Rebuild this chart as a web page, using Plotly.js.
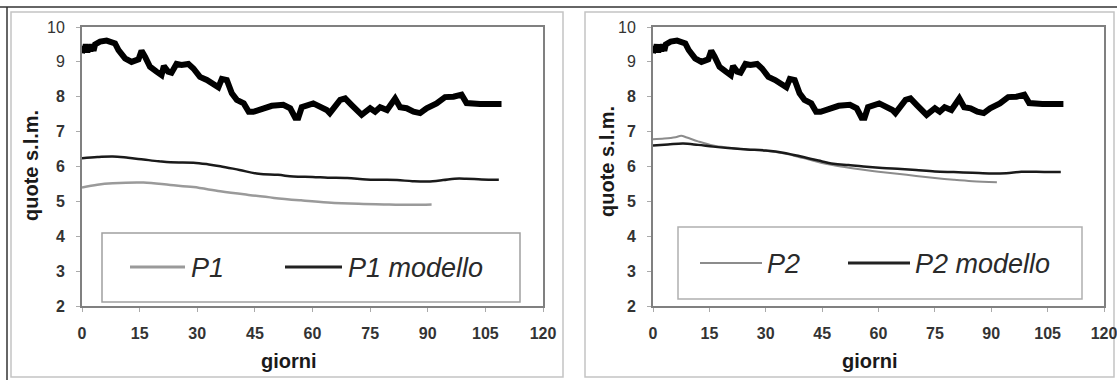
<!DOCTYPE html>
<html>
<head>
<meta charset="utf-8">
<script src="https://cdn.plot.ly/plotly-3.0.1.min.js"></script>
<style>
  html, body { margin: 0; padding: 0; background: #ffffff; }
  #chart { width: 1117px; height: 380px; }
</style>
</head>
<body>
<div id="chart"></div>
<script>
// ---------------- DATA ----------------
// shared upper (thick) series, days and levels (m s.l.m.)
const topDays = [0, 0.3, 0.6, 1, 1.4, 1.8, 2.2, 2.6, 3, 3.4, 4.7, 6.4, 8.6, 9.5, 11.2, 12.9, 14.7, 15.5, 16.4, 17.7, 19.4, 20.7, 21.3, 22.4, 23.3, 24.6, 25.9, 27.7, 29, 30.7, 32.5, 34.2, 35.5, 36.4, 37.7, 39, 40.3, 42.1, 43.4, 44.6, 47.2, 49.4, 52.4, 54.2, 55.5, 56.3, 57.2, 60.2, 63.7, 64.5, 67.2, 68.5, 70.2, 72.8, 75, 76.3, 77.6, 79.4, 81.5, 82.8, 84.5, 86.3, 88, 89.7, 92.3, 94.5, 96.7, 98.8, 100.1, 103.6, 109.2];
const topLevel = [9.25, 9.45, 9.28, 9.5, 9.27, 9.48, 9.3, 9.5, 9.32, 9.5, 9.58, 9.61, 9.53, 9.34, 9.10, 9.0, 9.07, 9.32, 9.15, 8.86, 8.72, 8.62, 8.88, 8.72, 8.69, 8.94, 8.91, 8.94, 8.81, 8.57, 8.48, 8.38, 8.27, 8.51, 8.48, 8.1, 7.91, 7.81, 7.57, 7.57, 7.67, 7.74, 7.77, 7.67, 7.40, 7.40, 7.70, 7.81, 7.62, 7.53, 7.91, 7.95, 7.76, 7.48, 7.67, 7.57, 7.70, 7.62, 7.95, 7.70, 7.67, 7.57, 7.53, 7.67, 7.81, 7.99, 8.0, 8.06, 7.82, 7.79, 7.79];

// P1 observed and model
const p1Days = [0, 4, 8, 16, 23, 29, 36, 43, 50, 57, 64, 72, 80, 86, 91];
const p1Level = [5.40, 5.48, 5.52, 5.54, 5.47, 5.41, 5.29, 5.19, 5.10, 5.03, 4.97, 4.93, 4.91, 4.90, 4.91];
const p1mDays = [0, 4, 8, 12, 16, 20, 23, 29, 33, 36, 41, 46, 51, 55, 60, 64, 69, 74, 78, 82, 86, 90, 94, 97, 100, 104, 108.5];
const p1mLevel = [6.24, 6.27, 6.29, 6.25, 6.20, 6.15, 6.12, 6.11, 6.06, 6.01, 5.90, 5.79, 5.76, 5.71, 5.70, 5.68, 5.67, 5.63, 5.62, 5.61, 5.58, 5.57, 5.61, 5.65, 5.65, 5.63, 5.62];

// P2 observed and model
const p2Days = [0, 3, 6, 7.5, 9, 12, 16, 20, 25, 30, 35, 40, 45, 50, 55, 60, 65, 70, 75, 80, 85, 91.5];
const p2Level = [6.78, 6.80, 6.84, 6.88, 6.83, 6.72, 6.60, 6.54, 6.49, 6.45, 6.37, 6.24, 6.10, 6.00, 5.92, 5.85, 5.79, 5.73, 5.67, 5.62, 5.58, 5.55];
const p2mDays = [0, 4, 8, 12, 16, 20, 25, 30, 35, 40, 44, 48, 52, 56, 61, 66, 70, 75, 80, 85, 90, 94, 98, 102, 106, 108.5];
const p2mLevel = [6.60, 6.63, 6.66, 6.62, 6.57, 6.53, 6.49, 6.46, 6.39, 6.27, 6.17, 6.08, 6.04, 6.00, 5.96, 5.93, 5.90, 5.86, 5.84, 5.82, 5.80, 5.81, 5.85, 5.85, 5.84, 5.84];

const xTicks = [0, 15, 30, 45, 60, 75, 90, 105, 120];
const yTicks = [2, 3, 4, 5, 6, 7, 8, 9, 10];
const seriesNames = ["P1", "P1 modello", "P2", "P2 modello"];
const xTitle = "giorni";
const yTitle = "quote s.l.m.";

// ---------------- LAYOUT HELPERS ----------------
const W = 1117, H = 380;
const px = v => v / W;
const py = v => 1 - v / H;
const FONT = "Liberation Sans, Arial, sans-serif";

// the upper part of the scanned figure is sharp, the lower part is blurred (looks bold)
const xTickText = xTicks.map(v => '<b>' + v + '</b>');
const yTickText = yTicks.map(v => v >= 9 ? String(v) : '<b>' + v + '</b>');

const traces = [
  {x: topDays, y: topLevel, xaxis: 'x', yaxis: 'y', mode: 'lines', showlegend: false,
   line: {color: '#000000', width: 6}},
  {x: p1mDays, y: p1mLevel, xaxis: 'x', yaxis: 'y', mode: 'lines', name: seriesNames[1], showlegend: false,
   line: {color: '#1a1a1a', width: 2.5, shape: 'spline'}},
  {x: p1Days, y: p1Level, xaxis: 'x', yaxis: 'y', mode: 'lines', name: seriesNames[0], showlegend: false,
   line: {color: '#9a9a9a', width: 2.5, shape: 'spline'}},
  {x: topDays, y: topLevel, xaxis: 'x2', yaxis: 'y2', mode: 'lines', showlegend: false,
   line: {color: '#000000', width: 6}},
  {x: p2Days, y: p2Level, xaxis: 'x2', yaxis: 'y2', mode: 'lines', name: seriesNames[2], showlegend: false,
   line: {color: '#8c8c8c', width: 2, shape: 'spline'}},
  {x: p2mDays, y: p2mLevel, xaxis: 'x2', yaxis: 'y2', mode: 'lines', name: seriesNames[3], showlegend: false,
   line: {color: '#1a1a1a', width: 2.5, shape: 'spline'}}
];

function xAxis(domain, anchor) {
  return {
    domain: domain, anchor: anchor, range: [0, 120], tickvals: xTicks, ticktext: xTickText,
    showline: true, linecolor: '#808080', linewidth: 2, mirror: true,
    ticks: 'outside', ticklen: 4, tickcolor: '#aaaaaa', tickwidth: 1,
    tickfont: {family: FONT, size: 16, color: '#333333'}, ticklabelstandoff: 8,
    ticklabeloverflow: 'allow',
    showgrid: false, zeroline: false, fixedrange: true
  };
}
function yAxis(domain, anchor) {
  return {
    domain: domain, anchor: anchor, range: [2, 10], tickvals: yTicks, ticktext: yTickText,
    showline: true, linecolor: '#808080', linewidth: 2, mirror: true,
    ticks: 'outside', ticklen: 4, tickcolor: '#aaaaaa', tickwidth: 1,
    tickfont: {family: FONT, size: 16, color: '#333333'}, ticklabelstandoff: 8,
    ticklabeloverflow: 'allow',
    showgrid: false, zeroline: false, fixedrange: true
  };
}

const yDom = [py(306), py(27)];

const shapes = [
  // outer frame lines
  {type: 'line', xref: 'paper', yref: 'paper', x0: 0, x1: 1, y0: py(7), y1: py(7), line: {color: '#333333', width: 1.5}},
  {type: 'line', xref: 'paper', yref: 'paper', x0: px(7), x1: px(7), y0: py(7), y1: 0, line: {color: '#333333', width: 1.5}},
  {type: 'rect', xref: 'paper', yref: 'paper', x0: px(11), x1: px(563), y0: py(377), y1: py(12), line: {color: '#c4c4c4', width: 1.5}, layer: 'below'},
  {type: 'rect', xref: 'paper', yref: 'paper', x0: px(585), x1: px(1114), y0: py(377), y1: py(12), line: {color: '#c4c4c4', width: 1.5}, layer: 'below'},
  // legend boxes
  {type: 'rect', xref: 'paper', yref: 'paper', x0: px(102), x1: px(520), y0: py(302), y1: py(233), line: {color: '#a0a0a0', width: 1.5}, fillcolor: '#ffffff'},
  {type: 'rect', xref: 'paper', yref: 'paper', x0: px(678), x1: px(1082), y0: py(299), y1: py(227), line: {color: '#b0b0b0', width: 1.5}, fillcolor: '#ffffff'},
  // legend samples
  {type: 'line', xref: 'paper', yref: 'paper', x0: px(130), x1: px(185), y0: py(267), y1: py(267), line: {color: '#9a9a9a', width: 3}},
  {type: 'line', xref: 'paper', yref: 'paper', x0: px(285), x1: px(342), y0: py(267), y1: py(267), line: {color: '#222222', width: 3}},
  {type: 'line', xref: 'paper', yref: 'paper', x0: px(700), x1: px(762), y0: py(263), y1: py(263), line: {color: '#8c8c8c', width: 2}},
  {type: 'line', xref: 'paper', yref: 'paper', x0: px(848), x1: px(910), y0: py(263), y1: py(263), line: {color: '#222222', width: 3}}
];

const legFont = {family: FONT, size: 27, color: '#2a2a2a', style: 'italic'};
const titleFont = {family: FONT, size: 20, color: '#1a1a1a', weight: 'bold'};
const annotations = [
  {xref: 'paper', yref: 'paper', x: px(189), y: py(268), xanchor: 'left', yanchor: 'middle', text: seriesNames[0], showarrow: false, font: legFont},
  {xref: 'paper', yref: 'paper', x: px(346), y: py(268), xanchor: 'left', yanchor: 'middle', text: seriesNames[1], showarrow: false, font: legFont},
  {xref: 'paper', yref: 'paper', x: px(765), y: py(264), xanchor: 'left', yanchor: 'middle', text: seriesNames[2], showarrow: false, font: legFont},
  {xref: 'paper', yref: 'paper', x: px(913), y: py(264), xanchor: 'left', yanchor: 'middle', text: seriesNames[3], showarrow: false, font: legFont},
  {xref: 'paper', yref: 'paper', x: px(289), y: py(361), xanchor: 'center', yanchor: 'middle', text: xTitle, showarrow: false, font: titleFont},
  {xref: 'paper', yref: 'paper', x: px(870), y: py(361), xanchor: 'center', yanchor: 'middle', text: xTitle, showarrow: false, font: titleFont},
  {xref: 'paper', yref: 'paper', x: px(31), y: py(166), xanchor: 'center', yanchor: 'middle', textangle: -90, text: yTitle, showarrow: false, font: titleFont},
  {xref: 'paper', yref: 'paper', x: px(607), y: py(162), xanchor: 'center', yanchor: 'middle', textangle: -90, text: yTitle, showarrow: false, font: titleFont}
];

const layout = {
  width: W, height: H,
  margin: {l: 0, r: 0, t: 0, b: 0},
  paper_bgcolor: '#ffffff', plot_bgcolor: '#ffffff',
  showlegend: false,
  font: {family: FONT},
  xaxis: xAxis([px(82), px(543)], 'y'),
  yaxis: yAxis(yDom, 'x'),
  xaxis2: xAxis([px(653), px(1104)], 'y2'),
  yaxis2: yAxis(yDom, 'x2'),
  shapes: shapes,
  annotations: annotations
};

Plotly.newPlot('chart', traces, layout, {staticPlot: true, displayModeBar: false});
</script>
</body>
</html>
